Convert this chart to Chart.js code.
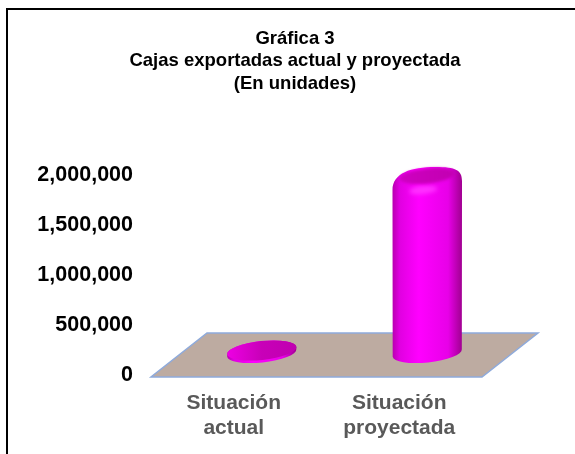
<!DOCTYPE html>
<html><head><meta charset="utf-8">
<style>html,body{margin:0;padding:0;background:#fff}canvas{display:block}</style>
<script src="https://cdn.jsdelivr.net/npm/chart.js@4"></script>
</head><body><div style="width:575px;height:454px"><canvas id="c" width="575" height="454"></canvas></div>
<script>
const categories = [["Situación","actual"],["Situación","proyectada"]];
const cajas = [25000, 1750000];
const yTicks = [0, 500000, 1000000, 1500000, 2000000];
const titleLines = ["Gráfica 3","Cajas exportadas actual y proyectada","(En unidades)"];

const DX = 28, DY = 22, RY = 9.5, TILT = -6 * Math.PI / 180;

function cylinder(ctx, cx, top, base, w) {
  const rx = w / 2, l = cx - rx, r = cx + rx;
  const s = rx * Math.sin(-TILT);
  const h = base - top;
  const tall = h > 30;
  const g = ctx.createLinearGradient(l, 0, r, 0);
  g.addColorStop(0, '#b800b0');
  g.addColorStop(0.1, '#e000e0');
  g.addColorStop(0.38, '#ff00ff');
  g.addColorStop(0.8, '#e800e8');
  g.addColorStop(1, '#a00090');
  ctx.save();
  ctx.fillStyle = g;
  ctx.beginPath();
  ctx.ellipse(cx, base, rx, RY, TILT, Math.PI, 0, true);
  if (tall) {
    ctx.lineTo(r, top + 3);
    ctx.bezierCurveTo(r, top - 8, r - 6, top - 11, cx + 8, top - 11);
    ctx.bezierCurveTo(cx - 16, top - 11, l, top - 5, l, top + 12);
  } else {
    ctx.lineTo(r, top - s);
    ctx.ellipse(cx, top, rx, RY, TILT, 0, Math.PI, true);
  }
  ctx.closePath();
  ctx.fill();
  if (tall) {
    ctx.filter = 'blur(2px)';
    ctx.fillStyle = '#ff30ff';
    ctx.beginPath();
    ctx.ellipse(cx - 4, top + 12, 14, 4, TILT, 0, Math.PI * 2);
    ctx.fill();
  }
  const face = ctx.createLinearGradient(l, 0, r, 0);
  face.addColorStop(0, tall ? '#d000c4' : '#ee00e4');
  face.addColorStop(0.5, '#c800b8');
  face.addColorStop(1, '#c000b0');
  ctx.filter = tall ? 'blur(1.5px)' : 'none';
  ctx.fillStyle = face;
  ctx.beginPath();
  ctx.ellipse(cx, tall ? top - 2 : top, tall ? rx - 7 : rx, tall ? RY - 2 : RY, TILT, 0, Math.PI * 2);
  ctx.fill();
  ctx.restore();
}

const scene = {
  id: 'scene',
  beforeDraw(chart) {
    const c = chart.ctx;
    c.save();
    c.fillStyle = '#fff';
    c.fillRect(0, 0, chart.width, chart.height);
    c.strokeStyle = '#000';
    c.lineWidth = 2;
    c.beginPath();
    c.moveTo(7, 454); c.lineTo(7, 9); c.lineTo(575, 9);
    c.stroke();
    c.restore();
  },
  beforeDatasetsDraw(chart) {
    const c = chart.ctx, a = chart.chartArea, y0 = chart.scales.y.getPixelForValue(0) + 2;
    c.save();
    c.fillStyle = '#bdaba1';
    c.strokeStyle = '#8eaadb';
    c.lineWidth = 1.5;
    c.beginPath();
    c.moveTo(a.left, y0);
    c.lineTo(a.right, y0);
    c.lineTo(a.right + DX * 2, y0 - DY * 2);
    c.lineTo(a.left + DX * 2, y0 - DY * 2);
    c.closePath();
    c.fill();
    c.stroke();
    c.restore();
  },
  afterDatasetsDraw(chart) {
    chart.getDatasetMeta(0).data.forEach(b => {
      cylinder(chart.ctx, b.x + DX, b.y - DY, b.base - DY, b.width);
    });
  }
};

new Chart(document.getElementById('c'), {
  type: 'bar',
  data: { labels: categories, datasets: [{ data: cajas, backgroundColor: 'rgba(0,0,0,0)', barPercentage: 0.42, categoryPercentage: 1 }] },
  plugins: [scene],
  options: {
    responsive: false,
    animation: false,
    layout: { padding: { left: 15, right: 0, top: 0, bottom: 0 } },
    plugins: {
      legend: { display: false },
      tooltip: { enabled: false },
      title: {
        display: true, text: titleLines, color: '#000',
        font: { family: '"Liberation Sans", Arial', weight: 'bold', size: 18.5 },
        lineHeight: 1.16, padding: { top: 28, bottom: 80.5 }
      }
    },
    scales: {
      x: {
        grid: { display: false }, border: { display: false },
        ticks: { color: '#595959', font: { family: '"Liberation Sans", Arial', weight: 'bold', size: 21, lineHeight: 1.18 }, maxRotation: 0, padding: 8 },
        afterFit(s) { s.height = 79; }
      },
      y: {
        min: 0, max: 2000000,
        grid: { display: false }, border: { display: false },
        afterBuildTicks(s) { s.ticks = yTicks.map(v => ({ value: v })); },
        ticks: { color: '#000', font: { family: '"Liberation Sans", Arial', weight: 'bold', size: 21.5 }, padding: 10,
          callback: v => Number(v).toLocaleString('en-US') },
        afterFit(s) { s.width = 136; }
      },
      pad: {
        position: 'right', min: 0, max: 1,
        grid: { display: false }, border: { display: false },
        ticks: { display: false },
        afterFit(s) { s.width = 93; }
      }
    }
  }
});
</script></body></html>
